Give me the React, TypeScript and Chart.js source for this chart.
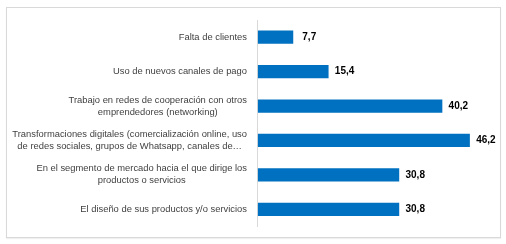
import React, { useEffect, useRef } from "react";
import { Chart, registerables } from "chart.js";
Chart.register(...registerables);

const categories: string[][] = [
  ["Falta de clientes"],
  ["Uso de nuevos canales de pago"],
  ["Trabajo en redes de cooperación con otros", "emprendedores (networking)"],
  ["Transformaciones digitales (comercialización online, uso", "de redes sociales, grupos de Whatsapp, canales de…"],
  ["En el segmento de mercado hacia el que dirige los", "productos o servicios"],
  ["El diseño de sus productos y/o servicios"],
];
const values: number[] = [7.7, 15.4, 40.2, 46.2, 30.8, 30.8];

const LABEL_FONT = '9.4px "Liberation Sans", Arial, sans-serif';
const VALUE_FONT = 'bold 10px "Liberation Sans", Arial, sans-serif';

const labelPlugin = {
  id: "customLabels",
  afterDatasetsDraw(chart: any) {
    const ctx = chart.ctx as CanvasRenderingContext2D;
    const yScale = chart.scales.y;
    const right = yScale.right - 10;
    ctx.save();
    ctx.font = LABEL_FONT;
    ctx.fillStyle = "#3f3f3f";
    ctx.textAlign = "center";
    ctx.textBaseline = "middle";
    const lh = 12;
    categories.forEach((lines, i) => {
      const y = yScale.getPixelForValue(i);
      const bw = Math.max(...lines.map((l) => ctx.measureText(l).width));
      const cx = right - bw / 2;
      const start = y - ((lines.length - 1) * lh) / 2;
      lines.forEach((l, k) => ctx.fillText(l, cx, start + k * lh));
    });
    // values
    ctx.font = VALUE_FONT;
    ctx.fillStyle = "#000000";
    const meta = chart.getDatasetMeta(0);
    meta.data.forEach((el: any, i: number) => {
      ctx.fillText(values[i].toFixed(1).replace(".", ","), el.x + 16, el.y);
    });
    ctx.restore();
  },
};

export default function App() {
  const ref = useRef<HTMLCanvasElement | null>(null);
  useEffect(() => {
    if (!ref.current) return;
    const chart = new Chart(ref.current, {
      type: "bar",
      data: {
        labels: categories,
        datasets: [
          {
            data: values,
            backgroundColor: "#0070c0",
            borderWidth: 0,
            categoryPercentage: 1,
            barPercentage: 0.385,
          },
        ],
      },
      options: {
        indexAxis: "y",
        animation: false,
        responsive: false,
        devicePixelRatio: 1,
        layout: { padding: { top: 20, bottom: 17.5, left: 0, right: 18.7 } },
        plugins: { legend: { display: false }, tooltip: { enabled: false } },
        scales: {
          x: { display: false, min: -0.2, max: 50 },
          y: {
            grid: { display: false, drawTicks: false },
            border: { display: true, color: "#d9d9d9", width: 1 },
            ticks: { display: false },
            afterFit: (scale: any) => {
              scale.width = 257;
            },
          },
        },
      },
      plugins: [labelPlugin],
    });
    return () => chart.destroy();
  }, []);
  return (
    <div style={{ position: "fixed", left: 0, top: 0, width: 506, height: 244, background: "#fff" }}>
      <div
        style={{
          position: "absolute",
          left: 6,
          top: 7,
          width: 493,
          height: 229,
          border: "1px solid #d9d9d9",
          boxShadow: "0 1px 1px rgba(0,0,0,0.06)",
        }}
      />
      <canvas ref={ref} width={506} height={244} style={{ position: "absolute", left: 0, top: 0 }} />
    </div>
  );
}
